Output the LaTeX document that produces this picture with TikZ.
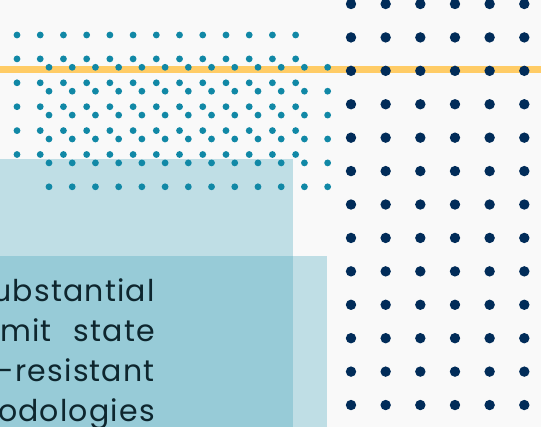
\documentclass[tikz,border=0pt]{standalone}
\usepackage{fontspec}
\setmainfont{Poppins}
\newfontfamily\bodyfont[LetterSpace=4]{Poppins}
\definecolor{pagebg}{RGB}{249,249,249}
\definecolor{dotteal}{RGB}{17,136,166}
\definecolor{dotnavy}{RGB}{1,44,89}
\definecolor{bandyellow}{RGB}{255,204,102}
\definecolor{panelblue}{RGB}{60,160,183}
\definecolor{textdark}{RGB}{14,38,46}
\tikzset{
  tealdot/.style = {fill=dotteal},
  navydot/.style = {fill=dotnavy},
  panel/.style = {fill=panelblue, fill opacity=0.3},% two see-through panels
  band/.style = {draw=bandyellow, line width=6.5pt},
  bodytext/.style = {inner sep=0pt, text=textdark,
    font=\bodyfont\fontsize{30}{40}\selectfont}
}

\begin{document}
\begin{tikzpicture}[x=1pt, y=-1pt]
		\fill[pagebg] (0,0) rectangle (541,427);
		\useasboundingbox (0,0) rectangle (541,427);
		\clip (0,0) rectangle (541,427);
		% panels
		\fill[panel] (0,159) rectangle (293,427);
		\fill[panel] (0,256) rectangle (327,427);
		% yellow band
		\coordinate (bandL) at (0,69.5);
		\coordinate (bandR) at (541,69.5);
		\draw[band] (bandL) -- (bandR);
		% teal dots, two shifted grids
		\foreach \i in {0,...,12}
		  \foreach \j in {0,...,5}{
		    \fill[tealdot] (17+23.22*\i, 35+23.9*\j) circle (3.4pt);
		    \fill[tealdot] (49+23.22*\i, 67.3+23.9*\j) circle (3.4pt);
		  }
		% navy dots
		\foreach \i in {0,...,5}
		  \foreach \j in {0,...,12}
		    \fill[navydot] (351+34.66*\i, 4+33.42*\j) circle (5.2pt);
		% text
		\node[bodytext, anchor=base east] (lineA) at (155,302) {ubstantial};
		\node[bodytext, anchor=base west] (lineB) at (0,342) {mit};
		\node[bodytext, anchor=base east] (lineC) at (155,342) {state};
		\node[bodytext, anchor=base east] (lineD) at (155,382) {-resistant};
		\node[bodytext, anchor=base east] (lineE) at (155,422) {odologies};
	\end{tikzpicture}
\end{document}
